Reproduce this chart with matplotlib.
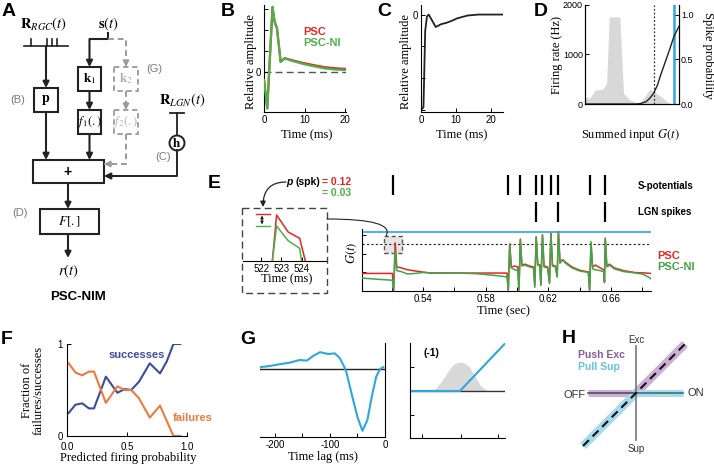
import matplotlib
matplotlib.use('Agg')
import matplotlib.pyplot as plt
from matplotlib.patches import Rectangle, Ellipse, FancyArrowPatch

plt.rcParams['font.family'] = ['Liberation Sans', 'DejaVu Sans']
plt.rcParams['mathtext.fontset'] = 'stix'
plt.rcParams['axes.linewidth'] = 0.8
plt.rcParams['xtick.direction'] = 'in'
plt.rcParams['ytick.direction'] = 'in'
plt.rcParams['xtick.major.size'] = 3
plt.rcParams['ytick.major.size'] = 3
plt.rcParams['xtick.minor.size'] = 3
plt.rcParams['xtick.major.width'] = 0.7
plt.rcParams['ytick.major.width'] = 0.7
plt.rcParams['xtick.labelsize'] = 7
plt.rcParams['ytick.labelsize'] = 7
plt.rcParams['xtick.major.pad'] = 2
plt.rcParams['ytick.major.pad'] = 2

SERIF = ['Liberation Serif', 'DejaVu Serif']
LAB = 9

# ---------------- data ----------------
# Panel B: PSC filters
b_time_ms = [0, 0.8, 2.1, 2.6, 3.2, 4.1, 5.1, 6.8, 9.0, 10.9, 13.0, 15.0, 17.5, 20.0]
b_psc = [-0.38, -1.73, 3.10, 2.40, 2.08, 0.49, 0.66, 0.57, 0.46, 0.38, 0.30, 0.23, 0.18, 0.15]
b_psc_ni = [-0.38, -1.73, 3.10, 2.40, 2.08, 0.49, 0.65, 0.54, 0.42, 0.33, 0.25, 0.17, 0.12, 0.10]

# Panel C: LGN spike-history filter
c_time_ms = [0, 0.7, 1.2, 1.7, 2.2, 4.2, 5.8, 7.3, 8.8, 10.3, 13.3, 16.4, 20.0, 23.4]
c_amp = [-1.0, -0.97, -0.17, -0.02, 0.0, -0.13, -0.10, -0.086, -0.065, -0.04, -0.01, 0.0, 0.0, 0.0]

# Panel D: distribution of G(t) and spiking nonlinearity
d_g = [0, 0.05, 0.106, 0.19, 0.23, 0.258, 0.37, 0.41, 0.477, 0.58, 0.636, 0.69, 0.76, 0.83, 0.9, 1.0]
d_rate_hz = [148, 114, 283, 296, 417, 1760, 1760, 215, 81, 13, 148, 296, 215, 114, 13, 0]
d_curve_g = [0.0, 0.55, 0.60, 0.65, 0.69, 0.73, 0.77, 0.81, 0.85, 0.90, 0.947, 1.0]
d_spike_prob = [0.0, 0.0, 0.008, 0.026, 0.065, 0.12, 0.21, 0.34, 0.46, 0.61, 0.76, 0.87]
d_threshold_g = 0.73
d_max_g = 0.947

# Panel E: rasters and summed input traces
e_spot_s = [0.5211, 0.5944, 0.6019, 0.6121, 0.6161, 0.6215, 0.6263, 0.6465, 0.6561]
e_lgn_s = [0.6121, 0.6263, 0.6561]
e_time_s = [0.5010, 0.5100, 0.5204, 0.5212, 0.5222, 0.5232, 0.5260, 0.5300, 0.5350, 0.5400,
            0.5450, 0.5600, 0.5750, 0.5860, 0.5936, 0.5944, 0.5953, 0.5963, 0.5985, 0.6005,
            0.6012, 0.6021, 0.6031, 0.6050, 0.6080, 0.6105, 0.6113, 0.6122, 0.6132, 0.6145,
            0.6152, 0.6162, 0.6172, 0.6195, 0.6207, 0.6216, 0.6226, 0.6245, 0.6256, 0.6264,
            0.6274, 0.6290, 0.6310, 0.6350, 0.6400, 0.6455, 0.6463, 0.6472, 0.6482, 0.6500,
            0.6530, 0.6553, 0.6558, 0.6563, 0.6573, 0.6590, 0.6620, 0.6680, 0.6750, 0.6800,
            0.6840, 0.6855]
e_psc = [0.95, 0.95, 0.95, 0.05, 2.60, 1.30, 1.25, 1.15, 1.08, 1.02,
         0.97, 0.97, 0.97, 0.97, 0.97, 0.05, 2.55, 1.30, 1.35, 1.30,
         0.10, 2.80, 1.40, 1.45, 1.35, 1.30, 0.30, 2.92, 1.45, 1.40,
         0.35, 3.03, 1.35, 1.30, 0.45, 3.12, 1.40, 1.35, 0.80, 3.20,
         1.55, 1.70, 1.55, 1.30, 1.12, 1.03, 0.05, 2.55, 1.30, 1.40,
         1.25, 1.15, 0.50, 2.85, 1.35, 1.45, 1.25, 1.10, 1.00, 0.98,
         0.96, 0.95]
e_psc_ni = [0.70, 0.64, 0.58, 0.00, 2.20, 1.10, 1.05, 0.92, 0.95, 1.00,
            0.98, 0.98, 0.93, 0.84, 0.76, 0.00, 2.50, 1.25, 1.15, 1.10,
            0.00, 2.76, 1.35, 1.40, 1.30, 1.25, 0.20, 2.92, 1.40, 1.35,
            0.30, 3.03, 1.30, 1.25, 0.40, 3.12, 1.35, 1.30, 0.75, 3.20,
            1.50, 1.68, 1.50, 1.25, 1.08, 1.00, 0.00, 2.67, 1.20, 1.15,
            1.10, 1.05, 0.45, 2.85, 1.30, 1.40, 1.20, 1.05, 0.98, 0.92,
            0.75, 0.65]
e_max_level = 3.19
e_threshold = 2.54
e_inset_red_ms = [522.55, 522.76, 523.33, 523.90, 524.18]
e_inset_red = [0.0, 0.92, 0.58, 0.454, 0.0]
e_inset_green_ms = [522.55, 522.76, 523.33, 523.90, 523.99]
e_inset_green = [0.0, 0.70, 0.406, 0.254, 0.0]

# Panel F
f_prob_fail = [0.014, 0.07, 0.127, 0.183, 0.225, 0.324, 0.42, 0.48, 0.535, 0.60, 0.69, 0.775, 0.887, 0.944]
f_failures = [0.79, 0.69, 0.66, 0.70, 0.70, 0.36, 0.54, 0.50, 0.50, 0.41, 0.20, 0.33, 0.0, 0.0]
f_prob_succ = [0.014, 0.07, 0.127, 0.183, 0.225, 0.324, 0.42, 0.48, 0.535, 0.60, 0.69, 0.775, 0.831, 0.887, 0.944]
f_successes = [0.25, 0.34, 0.355, 0.30, 0.30, 0.645, 0.47, 0.51, 0.50, 0.59, 0.79, 0.68, 0.81, 1.0, 1.0]

# Panel G
g_lag_ms = [-227, -209, -191, -173, -155, -142, -130, -118, -103, -91, -82, -71, -61, -50, -41, -32, -24, -16, -9, -3]
g_filter = [0.03, 0.05, 0.08, 0.105, 0.15, 0.14, 0.22, 0.28, 0.25, 0.26, 0.18, -0.02, -0.40, -0.80, -1.03, -0.85, -0.46, -0.13, 0.0, 0.03]
g_dist_x = [0.21, 0.27, 0.33, 0.39, 0.45, 0.51, 0.56, 0.62, 0.68, 0.74, 0.80, 0.83]
g_dist = [0, 0.05, 0.20, 0.38, 0.55, 0.61, 0.60, 0.52, 0.32, 0.12, 0.02, 0]
g_nl_in = [0.0, 0.526, 1.0]
g_nl_out = [0.0, 0.0, 1.0]

RED = '#e52521'
GREEN = '#4fb04a'
CYAN = '#2ea7dd'
BLUE_F = '#3b4d9b'
ORANGE = '#ec7a3c'
GFILL = '#d8d8d8'

W, H = 714, 465
fig = plt.figure(figsize=(W / 100, H / 100), dpi=100)


def px(l, t, r, b):
    return [l / W, 1 - b / H, (r - l) / W, (b - t) / H]


def clean(ax, keep=('left', 'bottom')):
    for s in ['left', 'right', 'top', 'bottom']:
        ax.spines[s].set_visible(s in keep)
    ax.patch.set_visible(False)


# ---------- B ----------
axB = fig.add_axes(px(264, 5, 346, 112))
axB.axhline(0, color='#555555', lw=1.0, ls=(0, (5, 3)), zorder=1)
axB.plot(b_time_ms, b_psc, color=RED, lw=1.6, zorder=2)
axB.plot(b_time_ms, b_psc_ni, color=GREEN, lw=1.6, zorder=3)
axB.set_xlim(0, 20.2)
axB.set_ylim(-1.9, 3.19)
axB.set_xticks([0, 10, 20])
axB.set_yticks([-1, 0, 1, 2, 3])
axB.set_yticklabels(['', '0', '', '', ''])
clean(axB)

# ---------- C ----------
axC = fig.add_axes(px(421, 5, 503, 112))
axC.plot(c_time_ms, c_amp, color='#222222', lw=1.3)
axC.set_xlim(0, 23.4)
axC.set_ylim(-1.02, 0.1)
axC.set_xticks([0, 10, 20])
axC.set_yticks([-1, -2 / 3, -1 / 3, 0])
axC.set_yticklabels(['', '', '', '0'])
clean(axC)

# ---------- D ----------
axD = fig.add_axes(px(585, 5, 679, 104))
axD.fill_between(d_g, d_rate_hz, 0, color=GFILL, lw=0)
axD.axvline(d_threshold_g, color='#333333', lw=0.9, ls=(0, (1.5, 1.5)))
axD.axvline(d_max_g, color=CYAN, lw=1.8)
axD.set_xlim(0, 1)
axD.set_ylim(0, 2000)
axD.set_yticks([0, 1000, 2000])
axD.set_xticks([])
axD.tick_params(axis='y', labelsize=6.5, pad=1.5)
clean(axD, ('left', 'bottom', 'right'))
axD2 = axD.twinx()
axD2.plot(d_curve_g, d_spike_prob, color='#222222', lw=1.0)
axD2.set_ylim(0, 1.11)
axD2.set_yticks([0, 0.5, 1.0])
axD2.set_yticklabels(['0.0', '0.5', '1.0'])
axD2.tick_params(axis='y', labelsize=6.5, pad=1.5)
clean(axD2, ('left', 'bottom', 'right'))

# ---------- E ----------
axR = fig.add_axes(px(362, 172, 651, 225))
axR.eventplot([e_spot_s, e_lgn_s], lineoffsets=[0.755, 0.245], linelengths=0.38,
              colors='black', linewidths=1.6)
axR.set_xlim(0.501, 0.6855)
axR.set_ylim(0, 1)
axR.axis('off')

axE = fig.add_axes(px(362, 229, 651, 291))
axE.add_patch(Rectangle((0.5151, 2.05), 0.0115, 0.92, facecolor='#e4e4e4', edgecolor='#555555',
                        lw=1.0, ls=(0, (3, 2)), zorder=1))
axE.axhline(e_max_level, color=CYAN, lw=1.2, zorder=2)
axE.axhline(e_threshold, color='#222222', lw=0.8, ls=(0, (2, 2)), zorder=2)
axE.plot(e_time_s, e_psc, color=RED, lw=1.1, zorder=3)
axE.plot(e_time_s, e_psc_ni, color='#3fa548', lw=1.1, zorder=4)
axE.set_xlim(0.501, 0.6855)
axE.set_ylim(0, 3.35)
e_ticks = [0.52, 0.54, 0.56, 0.58, 0.60, 0.62, 0.64, 0.66, 0.68]
axE.set_xticks(e_ticks)
axE.set_xticklabels(['', '0.54', '', '0.58', '', '0.62', '', '0.66', ''])
axE.set_yticks([1, 2, 3])
axE.set_yticklabels([])
clean(axE)

axI = fig.add_axes(px(243, 211, 326, 261))
axI.plot(e_inset_red_ms, e_inset_red, color=RED, lw=1.1)
axI.plot(e_inset_green_ms, e_inset_green, color=GREEN, lw=1.1)
axI.set_xlim(521.1, 525.2)
axI.set_ylim(0, 1)
axI.set_xticks([522, 523, 524])
axI.set_yticks([])
clean(axI, ('bottom',))

# ---------- F ----------
axF = fig.add_axes(px(67, 344, 187, 436))
axF.plot(f_prob_succ, f_successes, color=BLUE_F, lw=1.5)
axF.plot(f_prob_fail, f_failures, color=ORANGE, lw=1.5)
axF.set_xlim(0, 1)
axF.set_ylim(0, 1)
axF.set_xticks([0, 0.5, 1.0])
axF.set_xticklabels(['0.0', '0.5', '1.0'])
axF.set_yticks([0, 1])
axF.set_yticklabels(['0', '1'])
axF.tick_params(axis='x', pad=4)
axF.tick_params(axis='y', pad=3)
clean(axF)

# ---------- G ----------
axG = fig.add_axes(px(260, 343, 385, 437))
axG.axhline(0, color='#222222', lw=1.0)
axG.plot(g_lag_ms, g_filter, color=CYAN, lw=1.5)
axG.set_xlim(-227, 0)
axG.set_ylim(-1.133, 0.433)
axG.set_xticks([-200, -150, -100, -50, 0])
axG.set_xticklabels(['-200', '', '-100', '', '0'])
axG.yaxis.tick_right()
axG.set_yticks([0])
axG.set_yticklabels([])
clean(axG, ('bottom', 'right'))

axG2 = fig.add_axes(px(410, 343, 505, 438))
axG2.fill_between(g_dist_x, g_dist, 0, color=GFILL, lw=0)
axG2.axhline(0, color='#333333', lw=1.0)
axG2.plot(g_nl_in, g_nl_out, color=CYAN, lw=1.5)
axG2.set_xlim(0, 1)
axG2.set_ylim(-0.99, 1.01)
axG2.set_xticks([0.126, 0.537, 0.926])
axG2.set_xticklabels([])
axG2.set_yticks([-0.505, 0.505])
axG2.set_yticklabels([])
clean(axG2)
axG2.text(0.23, 0.9, '(-1)', transform=axG2.transAxes, fontsize=7.5, fontweight='bold',
          ha='center', va='center')

# ---------- overlay (diagram A, H, labels) ----------
ov = fig.add_axes([0, 0, 1, 1], zorder=10)
ov.set_xlim(0, W)
ov.set_ylim(H, 0)
ov.axis('off')
ov.patch.set_visible(False)

DK = '#222222'
GR = '#9a9a9a'


def T(x, y, s, **kw):
    kw.setdefault('ha', 'center')
    kw.setdefault('va', 'center')
    ov.text(x, y, s, **kw)


def arrow(x0, y0, x1, y1, color=DK, lw=1.5, ms=9):
    ov.annotate('', xy=(x1, y1), xytext=(x0, y0),
                arrowprops=dict(arrowstyle='-|>', color=color, lw=lw, shrinkA=0, shrinkB=0,
                                mutation_scale=ms))


def dashed_arrow(pts, color=GR):
    xs = [p[0] for p in pts]
    ys = [p[1] for p in pts]
    ov.plot(xs, ys, color=color, lw=1.4, ls=(0, (3, 2)))
    x1, y1 = pts[-1]
    x0, y0 = pts[-2]
    dx, dy = x1 - x0, y1 - y0
    n = (dx * dx + dy * dy) ** 0.5
    arrow(x1 - 6 * dx / n, y1 - 6 * dy / n, x1, y1, color=color, lw=1.2)


def boxp(l, t, r, b, color=DK, ls='-', lw=1.5):
    ov.add_patch(Rectangle((l, t), r - l, b - t, fill=False, ec=color, lw=lw, ls=ls))


# Panel letters
for lab, x, y in [('A', 2, 11), ('B', 221, 12), ('C', 377, 12), ('D', 534, 11),
                  ('E', 208, 183), ('F', 1, 339), ('G', 240, 339), ('H', 562, 338)]:
    T(x, y, lab, fontsize=14, fontweight='bold', ha='left')

# Panel A diagram
T(44, 24, r'$\mathbf{R}_{RGC}(t)$', fontsize=10.5)
ov.plot([24, 68], [46, 46], color=DK, lw=1.2)
for sx in [31, 47, 52, 57]:
    ov.plot([sx, sx], [39, 46], color=DK, lw=1.2)
arrow(46, 46, 46, 88)
boxp(34, 88, 58, 112)
T(46, 100, r'$\mathbf{p}$', fontsize=10)
T(18, 100, '(B)', fontsize=8, color='#7a7a7a')
arrow(46, 112, 46, 160)

T(108, 24, r'$\mathbf{s}(t)$', fontsize=10.5)
ov.plot([108, 108, 89.5], [33, 39, 39], color=DK, lw=1.5)
arrow(89.5, 39, 89.5, 67)
dashed_arrow([(108, 39), (126, 39), (126, 67)])
boxp(78, 67, 101, 91)
T(89.5, 79, r'$\mathbf{k}_1$', fontsize=9.5)
arrow(89.5, 91, 89.5, 110)
boxp(78, 110, 101, 134)
T(89.5, 122, r'$f_1(.)$', fontsize=9)
arrow(89.5, 134, 89.5, 160)
boxp(114, 67, 138, 91, color=GR, ls=(0, (3, 2)), lw=1.3)
T(126, 79, r'$\mathbf{k}_2$', fontsize=9.5, color='#b0b0b0')
dashed_arrow([(126, 91), (126, 110)])
boxp(114, 110, 138, 134, color=GR, ls=(0, (3, 2)), lw=1.3)
T(126, 122, r'$f_2(.)$', fontsize=9, color='#b0b0b0')
dashed_arrow([(126, 134), (126, 164), (104, 164)])
T(154, 69, '(G)', fontsize=8, color='#7a7a7a')

T(182, 100, r'$\mathbf{R}_{LGN}(t)$', fontsize=10.5)
ov.plot([170, 184], [113, 113], color=DK, lw=1.3)
ov.plot([177, 177], [113, 135.5], color=DK, lw=1.3)
ov.add_patch(Ellipse((177, 143), 15, 15, fill=False, ec=DK, lw=1.4))
T(177, 143, r'$\mathbf{h}$', fontsize=9.5)
ov.plot([177, 177, 120], [150.5, 176, 176], color=DK, lw=1.4)
arrow(120, 176, 104, 176)
T(163, 157, '(C)', fontsize=8, color='#7a7a7a')

boxp(33, 160, 104, 183)
T(68, 171.5, '+', fontsize=10, fontweight='bold')
arrow(68, 183, 68, 209)
boxp(40, 209, 99, 234)
T(69, 221.5, r'$F[.]$', fontsize=9.5)
T(20, 213, '(D)', fontsize=8, color='#7a7a7a')
arrow(68, 234, 68, 258)
T(68, 271, r'$r(t)$', fontsize=10.5)
T(78, 297, 'PSC-NIM', fontsize=9.5, fontweight='bold')

# Panel B/C/D labels
T(251, 62, 'Relative amplitude', fontsize=LAB, family=SERIF, rotation=90)
T(307, 135, 'Time (ms)', fontsize=LAB, family=SERIF)
T(303, 32, 'PSC', fontsize=8, fontweight='bold', color=RED, ha='left')
T(303, 43, 'PSC-NI', fontsize=8, fontweight='bold', color=GREEN, ha='left')
T(406, 62, 'Relative amplitude', fontsize=LAB, family=SERIF, rotation=90)
T(462, 135, 'Time (ms)', fontsize=LAB, family=SERIF)
T(557, 55, 'Firing rate (Hz)', fontsize=LAB, family=SERIF, rotation=90)
T(708, 55, 'Spike probability', fontsize=LAB, family=SERIF, rotation=270)
T(630, 135, r'Summed input $G(t)$', fontsize=LAB, family=SERIF)

# Panel E labels
T(638, 186, 'S-potentials', fontsize=7, fontweight='bold', ha='left')
T(638, 212, 'LGN spikes', fontsize=7, fontweight='bold', ha='left')
T(657, 256, 'PSC', fontsize=8, fontweight='bold', color=RED, ha='left')
T(657, 267, 'PSC-NI', fontsize=8, fontweight='bold', color='#3fa548', ha='left')
T(503, 311, 'Time (sec)', fontsize=LAB, family=SERIF)
T(352, 253, r'$G(t)$', fontsize=LAB, rotation=90)
boxp(242, 208, 327, 293, color='#444444', ls=(0, (5, 3)), lw=1.0)
T(287, 279, 'Time (ms)', fontsize=LAB, family=SERIF)
ov.plot([256, 270], [214.3, 214.3], color=RED, lw=1.0)
ov.plot([256, 270], [225.7, 225.7], color=GREEN, lw=1.0)
ov.annotate('', xy=(262, 224.5), xytext=(262, 215.5),
            arrowprops=dict(arrowstyle='<|-|>', color=DK, lw=0.8, shrinkA=0, shrinkB=0, mutation_scale=4))
T(320, 182, '(spk)', fontsize=7.5, fontweight='bold', ha='right')
T(293, 182, 'p', fontsize=7.5, fontweight='bold', style='italic', ha='right')
T(322, 182, '= 0.12', fontsize=7.5, fontweight='bold', color=RED, ha='left')
T(322, 193, '= 0.03', fontsize=7.5, fontweight='bold', color=GREEN, ha='left')
ov.add_patch(FancyArrowPatch((286, 182), (263, 207), arrowstyle='-|>', mutation_scale=8,
                             connectionstyle='angle3,angleA=0,angleB=90', color=DK, lw=0.9,
                             shrinkA=0, shrinkB=0))
ov.add_patch(FancyArrowPatch((327, 219), (386, 236), arrowstyle='-', color=DK, lw=0.8,
                             connectionstyle='angle3,angleA=0,angleB=60', shrinkA=0, shrinkB=0))

# Panel F labels
T(33, 390, 'Fraction of\nfailures/successes', fontsize=LAB, family=SERIF, rotation=90,
  linespacing=1.0)
T(128, 458, 'Predicted firing probability', fontsize=LAB, family=SERIF)
T(137, 355, 'successes', fontsize=8, fontweight='bold', color=BLUE_F)
T(193, 418, 'failures', fontsize=8, fontweight='bold', color=ORANGE)

# Panel G labels
T(323, 457, 'Time lag (ms)', fontsize=LAB, family=SERIF)

# Panel H diagram
PUR_BAND = '#cdaed6'
CY_BAND = '#a7dbeb'
ov.plot([588, 636], [393, 393], color=PUR_BAND, lw=5, solid_capstyle='butt')
ov.plot([636, 685], [393, 344], color=PUR_BAND, lw=6, solid_capstyle='butt')
ov.plot([636, 683], [393, 393], color=CY_BAND, lw=5, solid_capstyle='butt')
ov.plot([636, 583], [393, 446], color=CY_BAND, lw=6, solid_capstyle='butt')
ov.plot([636, 636], [346, 440], color='#777777', lw=1.2)
ov.plot([588, 636], [393, 393], color='#5a4a62', lw=1.2)
ov.plot([636, 683], [393, 393], color='#3d6f7c', lw=1.2)
ov.plot([583, 685], [446, 344], color='#111111', lw=1.5, ls=(0, (4, 2.5)))
T(636, 340, 'Exc', fontsize=7, color='#333333')
T(636, 449, 'Sup', fontsize=7, color='#333333')
T(586, 395, 'OFF', fontsize=8, color='#333333', ha='right')
T(688, 393, 'ON', fontsize=8, color='#333333', ha='left')
T(578, 355, 'Push Exc', fontsize=7.5, fontweight='bold', color='#8b5a96', ha='left')
T(578, 367, 'Pull Sup', fontsize=7.5, fontweight='bold', color='#62c2e2', ha='left')

fig.savefig('out.png', dpi=100)
